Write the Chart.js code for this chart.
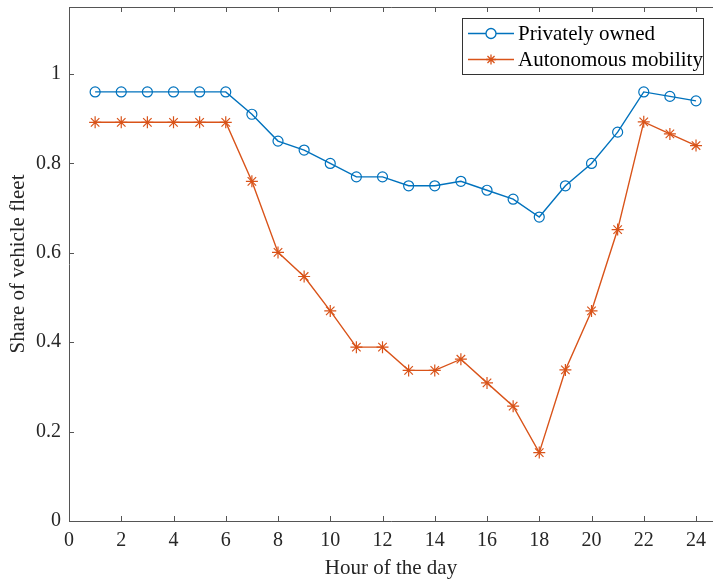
<!DOCTYPE html>
<html><head><meta charset="utf-8">
<script src="https://cdn.jsdelivr.net/npm/chart.js@4"></script>
<style>html,body{margin:0;padding:0;background:#fff}#wrap{width:713px;height:581px}</style>
</head><body><div id="wrap"><canvas id="c"></canvas></div>
<script>
const hours = [1,2,3,4,5,6,7,8,9,10,11,12,13,14,15,16,17,18,19,20,21,22,23,24];
const privatelyOwned = [0.96,0.96,0.96,0.96,0.96,0.96,0.91,0.85,0.83,0.80,0.77,0.77,0.75,0.75,0.76,0.74,0.72,0.68,0.75,0.80,0.87,0.96,0.95,0.94];
const autonomousMobility = [0.892,0.892,0.892,0.892,0.892,0.892,0.760,0.601,0.547,0.470,0.389,0.389,0.337,0.337,0.362,0.309,0.257,0.153,0.338,0.470,0.652,0.893,0.866,0.840];
const xTicks = [0,2,4,6,8,10,12,14,16,18,20,22,24];
const yTicks = [0,0.2,0.4,0.6,0.8,1];
const seriesNames = ['Privately owned','Autonomous mobility'];

const FONT = "'Liberation Serif', 'Times New Roman', serif";
const AXC = '#262626';

const boxPlugin = {
  id:'box',
  afterDraw(chart){
    const ctx = chart.ctx, a = chart.chartArea;
    const xs = chart.scales.x, ys = chart.scales.y;
    ctx.save();
    ctx.strokeStyle = '#555';
    ctx.lineWidth = 1;
    ctx.beginPath();
    ctx.rect(Math.round(a.left)+0.5, Math.round(a.top)+0.5, Math.round(a.right-a.left)+2, Math.round(a.bottom-a.top));
    ctx.stroke();
    const tl = 5;
    ctx.beginPath();
    xTicks.forEach(v=>{
      const px = Math.round(xs.getPixelForValue(v))+0.5;
      ctx.moveTo(px, a.bottom); ctx.lineTo(px, a.bottom-tl);
      ctx.moveTo(px, a.top); ctx.lineTo(px, a.top+tl);
    });
    yTicks.forEach(v=>{
      const py = Math.round(ys.getPixelForValue(v))+0.5;
      ctx.moveTo(a.left, py); ctx.lineTo(a.left+tl, py);
    });
    ctx.stroke();
    // legend
    const lx = 462.5, ly = 18.5, lw = 241, lh = 56;
    ctx.fillStyle = '#fff';
    ctx.fillRect(lx, ly, lw, lh);
    ctx.strokeStyle = '#333';
    ctx.strokeRect(lx, ly, lw, lh);
    ctx.font = '21px ' + FONT;
    ctx.textBaseline = 'middle';
    chart.data.datasets.forEach((ds,i)=>{
      const cy = ly + 15 + i*26;
      ctx.strokeStyle = ds.borderColor;
      ctx.lineWidth = 1.3;
      ctx.beginPath(); ctx.moveTo(468, cy); ctx.lineTo(514, cy); ctx.stroke();
      Chart.helpers.drawPoint(ctx, {pointStyle: ds.pointStyle, radius: 5, borderWidth: 1.2, rotation:0}, 491, cy);
      ctx.fillStyle = '#000';
      ctx.fillText(ds.label, 518, cy+1);
    });
    ctx.restore();
  }
};

new Chart(document.getElementById('c'), {
  type:'line',
  data:{
    datasets:[
      {label:seriesNames[0], data:hours.map((h,i)=>({x:h,y:privatelyOwned[i]})), borderColor:'#0072BD', backgroundColor:'rgba(0,0,0,0)', borderWidth:1.4, pointStyle:'circle', pointRadius:5, pointBorderWidth:1.2, pointBorderColor:'#0072BD', pointBackgroundColor:'rgba(0,0,0,0)', tension:0},
      {label:seriesNames[1], data:hours.map((h,i)=>({x:h,y:autonomousMobility[i]})), borderColor:'#D95319', backgroundColor:'rgba(0,0,0,0)', borderWidth:1.4, pointStyle:'star', pointRadius:6, pointBorderWidth:1.2, pointBorderColor:'#D95319', pointBackgroundColor:'#D95319', tension:0}
    ]
  },
  options:{
    responsive:true, maintainAspectRatio:false, animation:false,
    layout:{autoPadding:false, padding:{top:7,right:0,left:0,bottom:0}},
    plugins:{legend:{display:false}, tooltip:{enabled:false}},
    scales:{
      x:{type:'linear', min:0, max:24.65,
        afterBuildTicks(s){ s.ticks = xTicks.map(v=>({value:v})); },
        afterFit(s){ s.height = 60; s.paddingLeft = 0; s.paddingRight = 0; },
        grid:{display:false, drawTicks:false}, border:{display:false},
        ticks:{color:AXC, font:{family:FONT, size:20}, padding:8, maxRotation:0, autoSkip:false, callback:v=>String(v)},
        title:{display:true, text:'Hour of the day', color:AXC, font:{family:FONT, size:21}, padding:{top:0,bottom:0}}
      },
      y:{min:0, max:1.15,
        afterBuildTicks(s){ s.ticks = yTicks.map(v=>({value:v})); },
        afterFit(s){ s.width = 69; s.paddingTop = 0; s.paddingBottom = 0; },
        grid:{display:false, drawTicks:false}, border:{display:false},
        ticks:{color:AXC, font:{family:FONT, size:20}, padding:8, callback:v=>String(Math.round(v*10)/10)},
        title:{display:true, text:'Share of vehicle fleet', color:AXC, font:{family:FONT, size:21}, padding:{top:6,bottom:4}}
      }
    }
  },
  plugins:[boxPlugin]
});
</script></body></html>
